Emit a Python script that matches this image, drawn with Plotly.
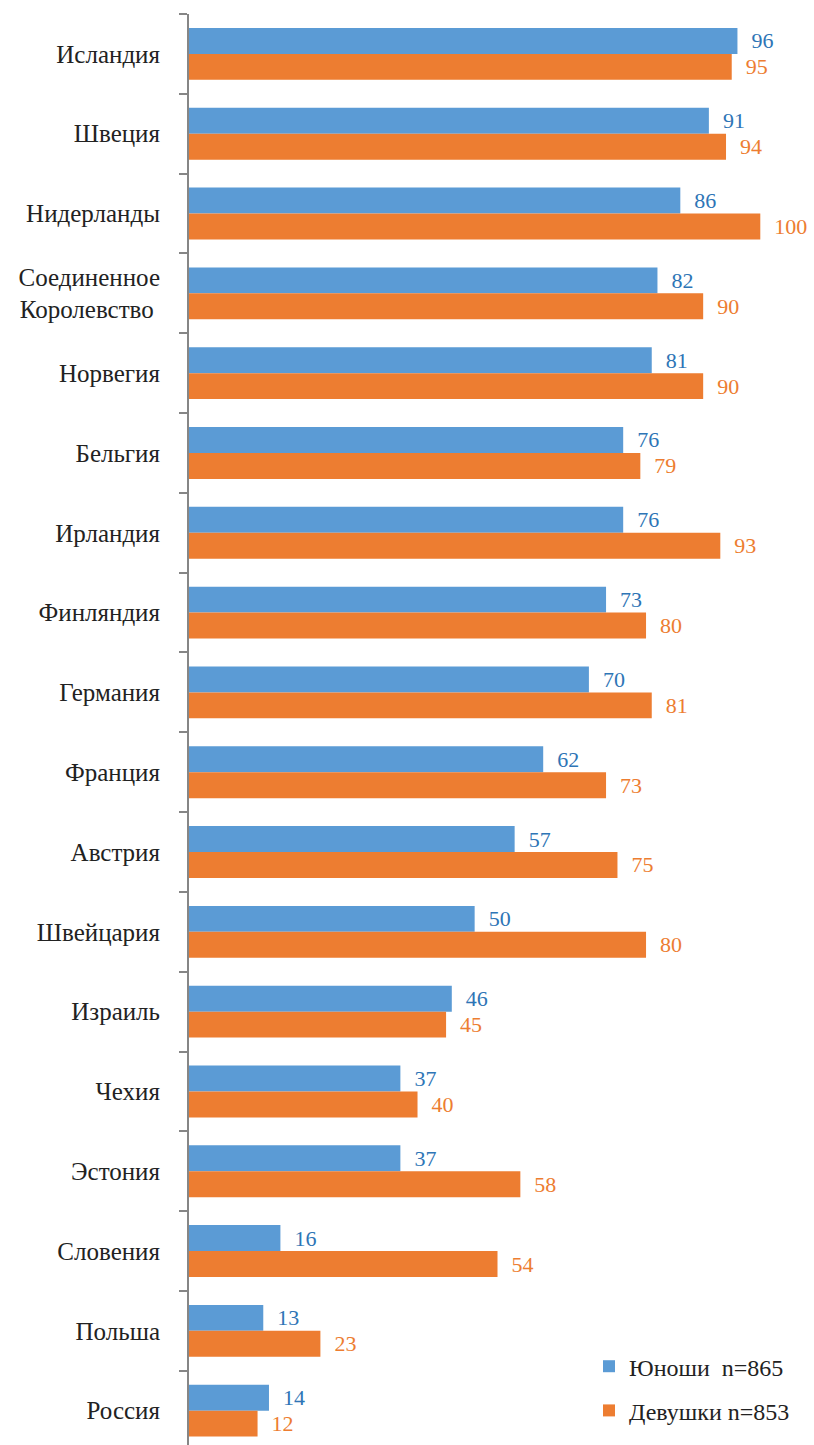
import plotly.graph_objects as go

countries = ["Исландия", "Швеция", "Нидерланды", "Соединенное<br>Королевство ", "Норвегия",
             "Бельгия", "Ирландия", "Финляндия", "Германия", "Франция", "Австрия",
             "Швейцария", "Израиль", "Чехия", "Эстония", "Словения", "Польша", "Россия"]
boys = [96, 91, 86, 82, 81, 76, 76, 73, 70, 62, 57, 50, 46, 37, 37, 16, 13, 14]
girls = [95, 94, 100, 90, 90, 79, 93, 80, 81, 73, 75, 80, 45, 40, 58, 54, 23, 12]
boys_name = "Юноши  n=865"
girls_name = "Девушки n=853"

FONT = "Liberation Serif, DejaVu Serif, serif"
pad = "\u00a0\u00a0"

fig = go.Figure()
fig.add_trace(go.Bar(
    y=countries, x=boys, orientation="h", name=boys_name, legendgroup="b",
    marker=dict(color="#5B9BD5", line=dict(width=0)),
    text=[pad + str(v) for v in boys], textposition="outside",
    textfont=dict(color="#2E75B6", size=22, family=FONT), cliponaxis=False,
))
fig.add_trace(go.Bar(
    y=countries, x=girls, orientation="h", name=girls_name, legendgroup="g",
    marker=dict(color="#ED7D31", line=dict(width=0)),
    text=[pad + str(v) for v in girls], textposition="outside",
    textfont=dict(color="#ED7D31", size=22, family=FONT), cliponaxis=False,
))

fig.update_layout(
    width=814, height=1445,
    margin=dict(l=189, r=0, t=14, b=0),
    barmode="group", bargap=0.35, bargroupgap=0,
    plot_bgcolor="white", paper_bgcolor="white",
    font=dict(family=FONT, size=22, color="#222222"),
    legend=dict(x=0.64, y=0.0705, xanchor="left", yanchor="top",
                font=dict(size=24, family=FONT, color="#222222"),
                itemwidth=30, tracegroupgap=10, bgcolor="rgba(0,0,0,0)"),
    showlegend=True,
)
fig.update_xaxes(range=[0, 109.4], visible=False)
fig.update_yaxes(
    type="category", range=[17.43, -0.5], tickson="boundaries",
    ticks="outside", ticklen=8, tickcolor="#868686", tickwidth=2,
    showline=True, linecolor="#868686", linewidth=2, showgrid=False,
    ticklabelstandoff=22, tickfont=dict(size=25, family=FONT, color="#222222"),
)
fig.write_html("out.html", config={"displayModeBar": False},
               post_script="document.body.style.margin='0';")
